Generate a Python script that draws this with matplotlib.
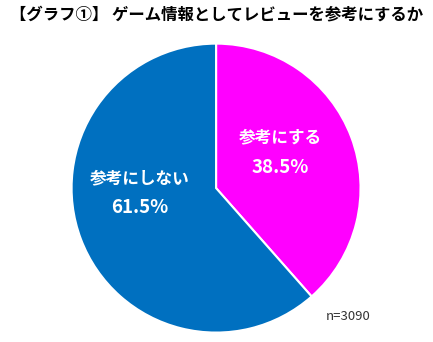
import matplotlib.pyplot as plt

# Datos de la gráfica
categorias = ['参考にする', '参考にしない']
porcentajes = [38.5, 61.5]
colores = ['#FF00FF', '#0070C0']
titulo = '【グラフ①】 ゲーム情報としてレビューを参考にするか'
nota = 'n=3090'

plt.rcParams['font.family'] = ['Noto Sans CJK JP', 'DejaVu Sans']

fig = plt.figure(figsize=(4.33, 3.42), dpi=100)
ax = fig.add_axes([0.162, 0.023, 0.674, 0.854])

ax.pie(porcentajes, colors=colores, startangle=90, counterclock=False,
       wedgeprops=dict(edgecolor='white', linewidth=1.5))
ax.set_xlim(-1.01, 1.01)
ax.set_ylim(-1.01, 1.01)
ax.set_aspect('equal')

# Etiquetas dentro de cada sector (posición del nombre y del porcentaje)
posiciones = [(0.445, 0.35, 0.145), (-0.53, 0.07, -0.135)]
for cat, val, (x, y1, y2) in zip(categorias, porcentajes, posiciones):
    ax.text(x, y1, cat, ha='center', va='center', color='white',
            fontsize=12, fontweight='bold')
    ax.text(x, y2, f'{val}%', ha='center', va='center', color='white',
            fontsize=13.5, fontweight='bold')

fig.text(0.5, 0.958, titulo, ha='center', va='center', fontsize=11.8,
         fontweight='bold', color='black')
fig.text(0.805, 0.075, nota, ha='center', va='center', fontsize=9.5,
         color='#333333')

fig.savefig('out.png', dpi=100)
